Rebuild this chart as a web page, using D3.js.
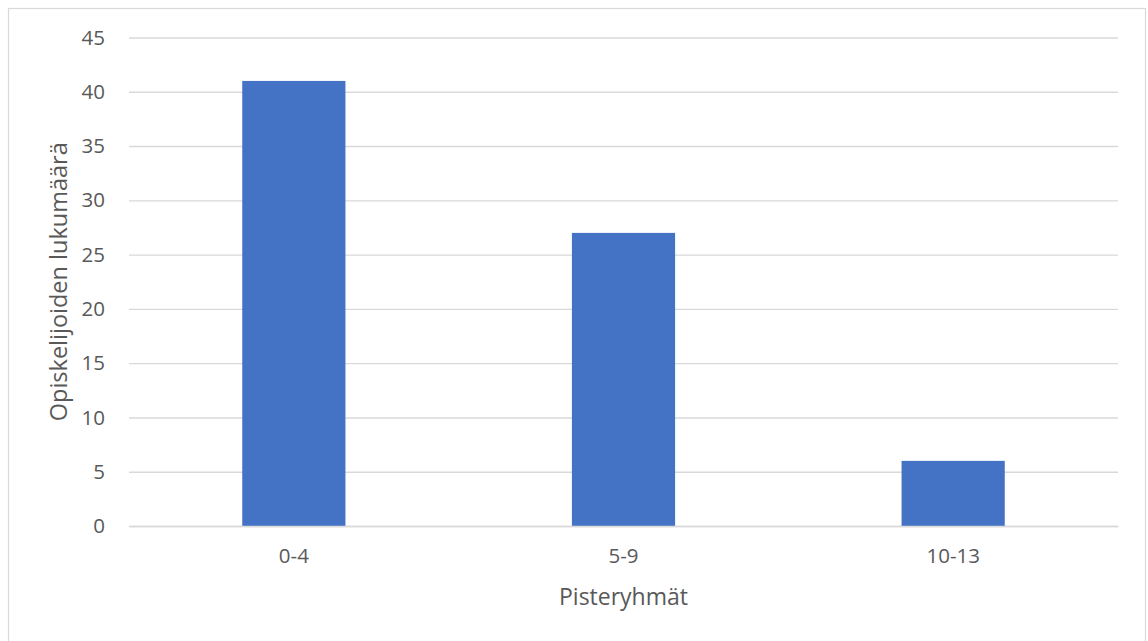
<!DOCTYPE html>
<html>
<head>
<meta charset="utf-8">
<script src="https://cdn.jsdelivr.net/npm/d3@7"></script>
<style>
  html, body { margin: 0; padding: 0; background: #ffffff; }
  svg { display: block; }
</style>
</head>
<body>
<svg id="chart" width="1148" height="641"></svg>
<script>
// Student counts per score group
const categories = ["0-4", "5-9", "10-13"];
const counts = [41, 27, 6];
const yTicks = [0, 5, 10, 15, 20, 25, 30, 35, 40, 45];
const xTitle = "Pisteryhmät";
const yTitle = "Opiskelijoiden lukumäärä";

const W = 1148, H = 641;
const plot = { left: 129, right: 1118, top: 37.5, bottom: 526 };
const font = "'Open Sans', 'Noto Sans', sans-serif";
const textColor = "#595959";
const gridColor = "#d9d9d9";
const barColor = "#4472c4";

const svg = d3.select("#chart");

// chart frame
svg.append("rect")
  .attr("x", 8.5).attr("y", 8.5)
  .attr("width", 1137).attr("height", 660)
  .attr("fill", "#ffffff")
  .attr("stroke", "#d9d9d9").attr("stroke-width", 1.2);

const x = d3.scaleBand()
  .domain(categories)
  .range([plot.left, plot.right])
  .paddingInner(0.687)
  .paddingOuter(0.3435);

const y = d3.scaleLinear()
  .domain([0, 45])
  .range([plot.bottom, plot.top]);

// horizontal gridlines
const yAxis = d3.axisLeft(y)
  .tickValues(yTicks)
  .tickSize(-(plot.right - plot.left))
  .tickPadding(24)
  .tickFormat(d3.format("d"));

const gy = svg.append("g")
  .attr("transform", `translate(${plot.left},0)`)
  .call(yAxis);
gy.select(".domain").remove();
gy.selectAll(".tick line")
  .attr("stroke", gridColor).attr("stroke-width", 1.4);
gy.selectAll(".tick text")
  .attr("fill", textColor)
  .style("font-family", font)
  .style("font-size", "20.5px");

// bars
svg.append("g").selectAll("rect")
  .data(counts)
  .join("rect")
  .attr("x", (d, i) => x(categories[i]))
  .attr("width", x.bandwidth())
  .attr("y", d => y(d))
  .attr("height", d => y(0) - y(d))
  .attr("fill", barColor);

// category axis
const xAxis = d3.axisBottom(x).tickSize(0).tickPadding(22);
const gx = svg.append("g")
  .attr("transform", `translate(0,${plot.bottom})`)
  .call(xAxis);
gx.select(".domain")
  .attr("stroke", gridColor).attr("stroke-width", 1.4);
gx.selectAll(".tick text")
  .attr("fill", textColor)
  .style("font-family", font)
  .style("font-size", "20.5px");

// axis titles
svg.append("text")
  .attr("x", (plot.left + plot.right) / 2)
  .attr("y", 605)
  .attr("text-anchor", "middle")
  .attr("fill", textColor)
  .style("font-family", font)
  .style("font-size", "23px")
  .text(xTitle);

svg.append("text")
  .attr("transform", `translate(67,${(plot.top + plot.bottom) / 2}) rotate(-90)`)
  .attr("text-anchor", "middle")
  .attr("fill", textColor)
  .style("font-family", font)
  .style("font-size", "23.5px")
  .text(yTitle);
</script>
</body>
</html>
